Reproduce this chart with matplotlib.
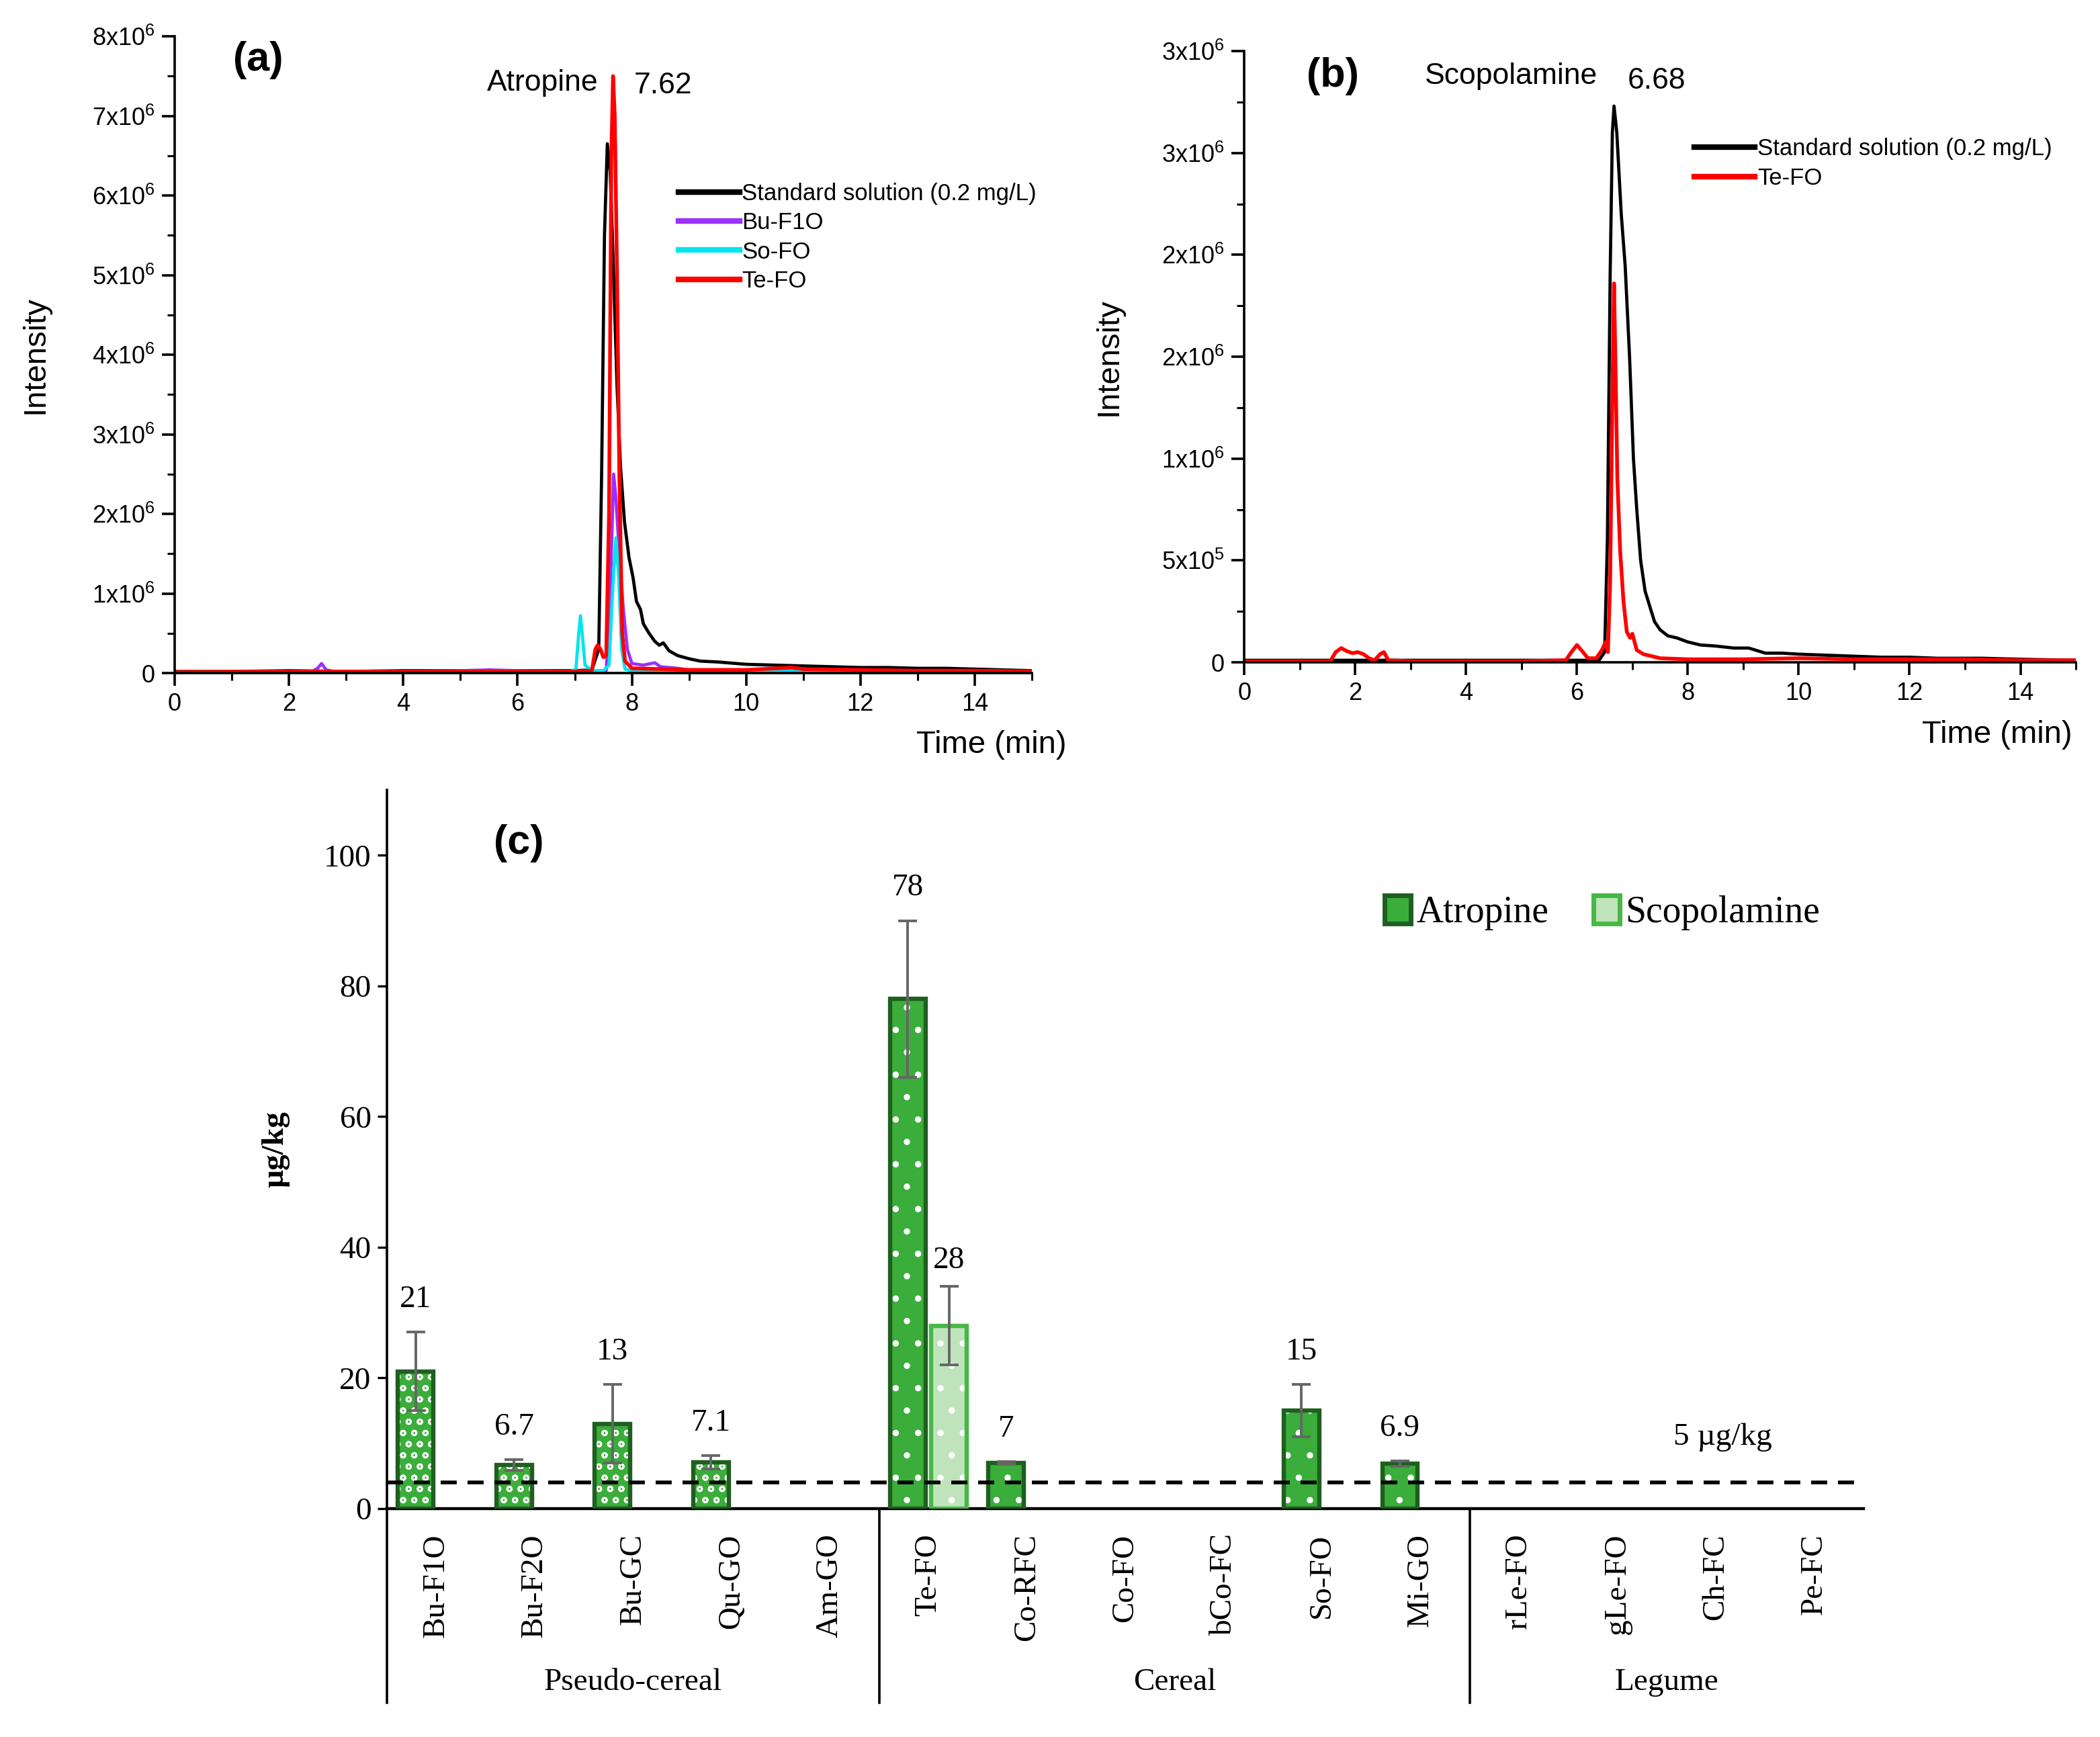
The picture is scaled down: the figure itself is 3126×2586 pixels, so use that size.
import numpy as np
import matplotlib
matplotlib.use("Agg")
import matplotlib.pyplot as plt
from matplotlib.patches import Patch
from matplotlib.ticker import FixedLocator, FixedFormatter, MultipleLocator

# ---------------- data ----------------
# panel (a): atropine chromatograms, time in min, intensity in units of 1e6
a_std_t = [0, 1, 2, 3, 4, 5, 6, 7.0, 7.3, 7.42, 7.47, 7.52, 7.57, 7.62, 7.68, 7.74, 7.8, 7.87,
           7.95, 8.02, 8.08, 8.15, 8.2, 8.3, 8.4, 8.48, 8.55, 8.65, 8.8, 9.0, 9.2, 9.5, 10, 10.5,
           11, 11.5, 12, 12.5, 13, 13.5, 14, 14.5, 15]
a_std_i = [0.02, 0.02, 0.03, 0.02, 0.03, 0.03, 0.03, 0.03, 0.04, 0.3, 2.5, 5.5, 6.65, 6.3, 5.0,
           3.6, 2.6, 1.9, 1.45, 1.2, 0.9, 0.8, 0.62, 0.5, 0.4, 0.35, 0.38, 0.28, 0.22, 0.18, 0.15,
           0.14, 0.11, 0.1, 0.09, 0.08, 0.07, 0.07, 0.06, 0.06, 0.05, 0.04, 0.03]
a_bu_t = [0, 2.4, 2.5, 2.57, 2.65, 2.8, 4, 5, 5.5, 6, 7, 7.55, 7.62, 7.68, 7.72, 7.78, 7.85,
          7.92, 8.0, 8.2, 8.4, 8.5, 8.8, 9, 10, 12, 15]
a_bu_i = [0.01, 0.02, 0.06, 0.12, 0.04, 0.02, 0.02, 0.03, 0.04, 0.03, 0.02, 0.03, 1.0, 2.5, 2.2,
          1.5, 0.8, 0.3, 0.12, 0.1, 0.13, 0.08, 0.06, 0.04, 0.03, 0.02, 0.01]
a_so_t = [0, 6.9, 7.02, 7.07, 7.1, 7.13, 7.18, 7.3, 7.5, 7.6, 7.66, 7.72, 7.77, 7.82, 7.88, 8,
          9, 10, 12, 15]
a_so_i = [0.01, 0.01, 0.05, 0.5, 0.72, 0.5, 0.1, 0.03, 0.03, 0.1, 1.0, 1.7, 1.2, 0.3, 0.05,
          0.03, 0.03, 0.02, 0.02, 0.01]
a_te_t = [0, 2, 4, 6, 7.0, 7.3, 7.36, 7.4, 7.45, 7.5, 7.55, 7.6, 7.64, 7.67, 7.7, 7.74, 7.78,
          7.83, 7.88, 8.0, 8.5, 9, 10, 10.8, 11, 12, 13, 14, 15]
a_te_i = [0.01, 0.02, 0.02, 0.02, 0.02, 0.03, 0.3, 0.35, 0.3, 0.2, 0.22, 2.0, 6.5, 7.5, 7.0,
          5.0, 2.5, 0.5, 0.15, 0.06, 0.05, 0.04, 0.04, 0.07, 0.05, 0.04, 0.03, 0.03, 0.02]

# panel (b): scopolamine chromatograms
b_std_t = [0, 2, 4, 6, 6.4, 6.5, 6.55, 6.6, 6.64, 6.67, 6.72, 6.8, 6.87, 6.95, 7.02, 7.08, 7.15,
           7.23, 7.32, 7.4, 7.5, 7.64, 7.8, 8.0, 8.23, 8.5, 8.83, 9.1, 9.4, 9.7, 10, 10.5, 11,
           11.5, 12, 12.5, 13.3, 14, 15]
b_std_i = [0.01, 0.01, 0.01, 0.01, 0.01, 0.05, 0.6, 1.9, 2.6, 2.73, 2.6, 2.2, 1.95, 1.5, 1.0,
           0.75, 0.5, 0.35, 0.27, 0.2, 0.16, 0.13, 0.12, 0.1, 0.085, 0.08, 0.07, 0.07, 0.045,
           0.045, 0.04, 0.035, 0.03, 0.025, 0.025, 0.02, 0.02, 0.015, 0.01]
b_te_t = [0, 1.55, 1.65, 1.75, 1.85, 1.95, 2.05, 2.15, 2.25, 2.35, 2.45, 2.52, 2.6, 3, 4, 5,
          5.8, 5.9, 6.0, 6.08, 6.2, 6.35, 6.45, 6.52, 6.56, 6.6, 6.64, 6.67, 6.7, 6.73, 6.78,
          6.84, 6.9, 6.96, 7.0, 7.08, 7.2, 7.5, 8, 9, 10, 11, 12, 13, 14, 15]
b_te_i = [0.005, 0.005, 0.05, 0.07, 0.055, 0.045, 0.05, 0.04, 0.02, 0.01, 0.04, 0.05, 0.01,
          0.005, 0.005, 0.005, 0.01, 0.05, 0.085, 0.06, 0.02, 0.02, 0.06, 0.1, 0.05, 0.4, 1.3,
          1.86, 1.4, 0.9, 0.55, 0.3, 0.15, 0.12, 0.14, 0.06, 0.04, 0.02, 0.015, 0.015, 0.02,
          0.015, 0.015, 0.015, 0.01, 0.01]

a_yticks = [0, 1, 2, 3, 4, 5, 6, 7, 8]
a_ylabels = ["0", "1x10^6", "2x10^6", "3x10^6", "4x10^6", "5x10^6", "6x10^6", "7x10^6", "8x10^6"]
b_yticks = [0, 0.5, 1.0, 1.5, 2.0, 2.5, 3.0]
b_ylabels = ["0", "5x10^5", "1x10^6", "2x10^6", "2x10^6", "3x10^6", "3x10^6"]

# panel (c): contents (ug/kg)
samples = ["Bu-F1O", "Bu-F2O", "Bu-GC", "Qu-GO", "Am-GO",
           "Te-FO", "Co-RFC", "Co-FO", "bCo-FC", "So-FO", "Mi-GO",
           "rLe-FO", "gLe-FO", "Ch-FC", "Pe-FC"]
groups = ["Pseudo-cereal", "Cereal", "Legume"]
group_sizes = [5, 6, 4]
atropine = [21, 6.7, 13, 7.1, 0, 78, 7, 0, 0, 15, 6.9, 0, 0, 0, 0]
atropine_err = [6, 0.8, 6, 1.0, 0, 12, 0.2, 0, 0, 4, 0.4, 0, 0, 0, 0]
atropine_lbl = ["21", "6.7", "13", "7.1", "", "78", "7", "", "", "15", "6.9", "", "", "", ""]
scopolamine = [0, 0, 0, 0, 0, 28, 0, 0, 0, 0, 0, 0, 0, 0, 0]
scopolamine_err = [0, 0, 0, 0, 0, 6, 0, 0, 0, 0, 0, 0, 0, 0, 0]
scopolamine_lbl = ["", "", "", "", "", "28", "", "", "", "", "", "", "", "", ""]
limit = 4

# ---------------- figure ----------------
plt.rcParams["font.family"] = ["Liberation Sans", "DejaVu Sans"]
fig = plt.figure(figsize=(15.63, 12.93), dpi=200)


def sci(lbl):
    if "^" in lbl:
        base, exp = lbl.split("^")
        return r"$\mathregular{%s^{%s}}$" % (base, exp)
    return lbl


def chrom_axes(ax, yticks, ylabels, ymax):
    ax.set_xlim(0, 15)
    ax.set_ylim(0, ymax)
    for s in ["top", "right"]:
        ax.spines[s].set_visible(False)
    for s in ["left", "bottom"]:
        ax.spines[s].set_linewidth(1.3)
    ax.xaxis.set_major_locator(MultipleLocator(2))
    ax.xaxis.set_minor_locator(MultipleLocator(1))
    ax.yaxis.set_major_locator(FixedLocator(yticks))
    ax.yaxis.set_major_formatter(FixedFormatter([sci(l) for l in ylabels]))
    ax.yaxis.set_minor_locator(MultipleLocator((yticks[1] - yticks[0]) / 2))
    ax.tick_params(which="major", direction="out", length=7, width=1.3, labelsize=13)
    ax.tick_params(which="minor", direction="out", length=4, width=1.1)
    ax.set_ylabel("Intensity", fontsize=17)
    ax.set_xlabel("Time (min)", fontsize=17)


# (a)
ax1 = fig.add_axes([0.0832, 0.6125, 0.4082, 0.3666])
ax1.plot(a_std_t, np.array(a_std_i), color="black", lw=1.7, label="Standard solution (0.2 mg/L)")
ax1.plot(a_bu_t, np.array(a_bu_i), color="#9b30ff", lw=1.7, label="Bu-F1O")
ax1.plot(a_so_t, np.array(a_so_i), color="#00e5ee", lw=1.7, label="So-FO")
ax1.plot(a_te_t, np.array(a_te_i), color="#ff0000", lw=2.0, label="Te-FO")
chrom_axes(ax1, a_yticks, a_ylabels, 8)
ax1.yaxis.set_label_coords(-0.145, 0.5)
ax1.xaxis.set_label_coords(0.953, -0.09)
ax1.text(1.46, 7.7, "(a)", fontsize=22, fontweight="bold", ha="center", va="center")
ax1.text(7.41, 7.41, "Atropine", fontsize=16, ha="right", va="center")
ax1.text(8.04, 7.38, "7.62", fontsize=16, ha="left", va="center")
leg = ax1.legend(loc="upper left", bbox_to_anchor=(0.577, 0.785), frameon=False, fontsize=12.5,
                 handlelength=2.6, handletextpad=0.1, labelspacing=0.3, borderaxespad=0)
for h in leg.get_lines():
    h.set_linewidth(3)

# (b)
ax2 = fig.add_axes([0.5925, 0.6187, 0.396, 0.3519])
ax2.plot(b_std_t, np.array(b_std_i), color="black", lw=1.7, label="Standard solution (0.2 mg/L)")
ax2.plot(b_te_t, np.array(b_te_i), color="#ff0000", lw=2.0, label="Te-FO")
chrom_axes(ax2, b_yticks, b_ylabels, 3.0)
ax2.yaxis.set_label_coords(-0.145, 0.5)
ax2.xaxis.set_label_coords(0.905, -0.095)
ax2.text(1.6, 2.875, "(b)", fontsize=22, fontweight="bold", ha="center", va="center")
ax2.text(4.82, 2.875, "Scopolamine", fontsize=16, ha="center", va="center")
ax2.text(7.44, 2.855, "6.68", fontsize=16, ha="center", va="center")
leg = ax2.legend(loc="upper left", bbox_to_anchor=(0.53, 0.873), frameon=False, fontsize=12.5,
                 handlelength=2.6, handletextpad=0.1, labelspacing=0.3, borderaxespad=0)
for h in leg.get_lines():
    h.set_linewidth(3)

# (c)
serif = ["Liberation Serif", "DejaVu Serif"]
ax3 = fig.add_axes([0.1843, 0.1315, 0.7031, 0.4137])
x = np.arange(len(samples))
w = 0.36
off = 0.21
atro_fill, atro_edge = "#3aad3a", "#1f5f1f"
scop_fill, scop_edge = "#bfe3bb", "#45b845"
hatches = ["oo"] * group_sizes[0] + ["."] * (group_sizes[1] + group_sizes[2])
for i in range(len(samples)):
    if atropine[i] > 0:
        ax3.bar(x[i] - off, atropine[i], w, color=atro_fill, edgecolor="white", hatch=hatches[i],
                linewidth=0, zorder=2)
        ax3.bar(x[i] - off, atropine[i], w, facecolor="none", edgecolor=atro_edge, linewidth=2.3,
                zorder=3)
        ax3.errorbar(x[i] - off, atropine[i], yerr=atropine_err[i], color="#666666", lw=1.4,
                     capsize=5, capthick=1.4, zorder=4)
        ax3.text(x[i] - off, atropine[i] + atropine_err[i] + 5, atropine_lbl[i], family=serif,
                 fontsize=17, ha="center", va="center")
    if scopolamine[i] > 0:
        ax3.bar(x[i] + off, scopolamine[i], w, color=scop_fill, edgecolor="white", hatch=".",
                linewidth=0, zorder=2)
        ax3.bar(x[i] + off, scopolamine[i], w, facecolor="none", edgecolor=scop_edge,
                linewidth=2.3, zorder=3)
        ax3.errorbar(x[i] + off, scopolamine[i], yerr=scopolamine_err[i], color="#666666",
                     lw=1.4, capsize=5, capthick=1.4, zorder=4)
        ax3.text(x[i] + off, scopolamine[i] + scopolamine_err[i] + 4, scopolamine_lbl[i],
                 family=serif, fontsize=17, ha="center", va="center")

ax3.axhline(limit, color="black", lw=2.0, ls=(0, (4.3, 2.9)), zorder=5)
ax3.text(13.07, 10.9, "5 µg/kg", family=serif, fontsize=17, ha="center", va="center")
ax3.text(0.84, 101.8, "(c)", fontsize=22, fontweight="bold", ha="center", va="center")

ax3.set_xlim(-0.5, len(samples) - 0.5)
ax3.set_ylim(0, 110)
ax3.set_yticks([0, 20, 40, 60, 80, 100])
ax3.set_xticks([])
for s in ["top", "right"]:
    ax3.spines[s].set_visible(False)
ax3.spines["left"].set_linewidth(1.3)
ax3.spines["bottom"].set_linewidth(1.6)
ax3.tick_params(axis="y", direction="out", length=5, width=1.2, labelsize=17)
for lab in ax3.get_yticklabels():
    lab.set_family(serif)
ax3.set_ylabel("µg/kg", family=serif, fontsize=17, fontweight="bold")
ax3.yaxis.set_label_coords(-0.066, 0.5)

trans = ax3.get_xaxis_transform()
for i, s in enumerate(samples):
    ax3.text(x[i], -0.035, s, transform=trans, rotation=90, ha="center", va="top",
             family=serif, fontsize=17)
bounds = np.concatenate([[0], np.cumsum(group_sizes)]) - 0.5
for b in bounds[:-1]:
    ax3.plot([b, b], [0, -0.27], transform=trans, color="black", lw=1.3, clip_on=False)
for g, lo, hi in zip(groups, bounds[:-1], bounds[1:]):
    ax3.text((lo + hi) / 2, -0.242, g, transform=trans, ha="center", va="center",
             family=serif, fontsize=17)

handles = [Patch(facecolor=atro_fill, edgecolor=atro_edge, linewidth=2.5, label="Atropine"),
           Patch(facecolor=scop_fill, edgecolor=scop_edge, linewidth=2.5, label="Scopolamine")]
ax3.legend(handles=handles, loc="center", bbox_to_anchor=(0.823, 0.829), ncol=2, frameon=False,
           prop={"family": serif, "size": 20}, handlelength=0.7, handleheight=0.8,
           handletextpad=0.15, columnspacing=1.2)

fig.savefig("out.png", dpi=200)
